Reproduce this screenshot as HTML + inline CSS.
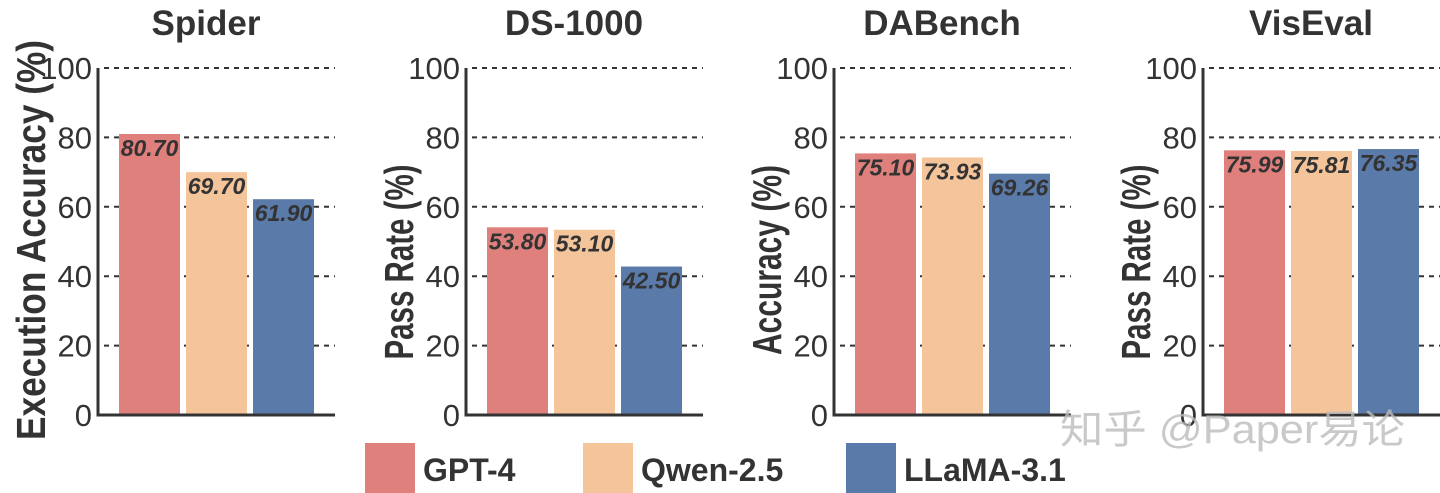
<!DOCTYPE html>
<html><head><meta charset="utf-8"><style>
html,body{margin:0;padding:0;background:#fff;}
svg{display:block;font-family:"Liberation Sans","Noto Sans CJK SC",sans-serif;}
</style></head><body>
<svg id="c" width="1440" height="493" viewBox="0 0 1440 493"></svg>
<script>
const panels = ["Spider","DS-1000","DABench","VisEval"];
const yTitles = ["Execution Accuracy (%)","Pass Rate (%)","Accuracy (%)","Pass Rate (%)"];
const models = ["GPT-4","Qwen-2.5","LLaMA-3.1"];
const spiderVals = [80.70,69.70,61.90];
const dsVals = [53.80,53.10,42.50];
const dabVals = [75.10,73.93,69.26];
const visVals = [75.99,75.81,76.35];
const yTicks = [0,20,40,60,80,100];
const colors = ["#E0807C","#F4C49B","#5A7BA9"];
const allVals = [spiderVals,dsVals,dabVals,visVals];

const svg = document.getElementById('c');
const NS = "http://www.w3.org/2000/svg";
function mk(tag, attrs, parent){const e=document.createElementNS(NS,tag);for(const k in attrs)e.setAttribute(k,attrs[k]);(parent||svg).appendChild(e);return e;}
const y0=415, yTop=68;
function yS(v){return y0-(v/100)*(y0-yTop);}
const panelOffsets=[0,368,736,1105];
const titleLens=[400,195,190,195];
const titleCy=[240,262,260,262];
panels.forEach((p,pi)=>{
  const ox=panelOffsets[pi];
  const ax=98+ox, axEnd=335+ox;
  const g=mk('g',{});
  
  
  const t=mk('text',{x:206+ox,y:35,'text-anchor':'middle','font-size':35,'font-weight':'bold',fill:'#333'},g);
  t.textContent=p;
  
  
  const yt=mk('text',{x:0,y:0,'text-anchor':'middle','font-size':41,'font-weight':'bold',fill:'#333',textLength:titleLens[pi],lengthAdjust:'spacingAndGlyphs',transform:`translate(${45+ox},${titleCy[pi]}) rotate(-90)`},g);
  yt.textContent=yTitles[pi];
  
  
  yTicks.forEach(v=>{
    const y=yS(v);
    if(v>0){
      const l=mk('line',{x1:ax+6,x2:axEnd,y1:y,y2:y,stroke:'#333','stroke-width':2,'stroke-dasharray':'5,5'},g);
      
      
    }
    const tl=mk('text',{x:ax-6,y:y+11,'text-anchor':'end','font-size':31,fill:'#333'},g);
    tl.textContent=v;
    
    
  });
  const vals=allVals[pi];
  vals.forEach((v,i)=>{
    const bx=119+ox+i*67, bw=61;
    const r=mk('rect',{x:bx,y:yS(v)-1,width:bw,height:y0-yS(v)+1,fill:colors[i]},g);
    
    
    const vl=mk('text',{x:bx+bw/2,y:yS(v)+21,'text-anchor':'middle','font-size':23,'font-style':'italic','font-weight':'bold',fill:'#333'},g);
    vl.textContent=v.toFixed(2);
    
    
  });
  const sp=mk('path',{d:`M${ax},${yTop} V${y0} H${axEnd}`,fill:'none',stroke:'#333','stroke-width':3},g);
  
  
});
const legX=[365,583,846];
models.forEach((m,i)=>{
  const g=mk('g',{});
  
  
  mk('rect',{x:legX[i],y:443,width:50,height:50,fill:colors[i]},g);
  const t=mk('text',{x:legX[i]+58,y:481,'font-size':32,'font-weight':'bold',fill:'#333'},g);
  t.textContent=m;
});
const wm=mk('text',{x:1060,y:443,'font-size':40,fill:'#bbb','fill-opacity':0.8,textLength:345,lengthAdjust:'spacingAndGlyphs'});
wm.textContent="知乎 @Paper易论";


</script>
</body></html>
